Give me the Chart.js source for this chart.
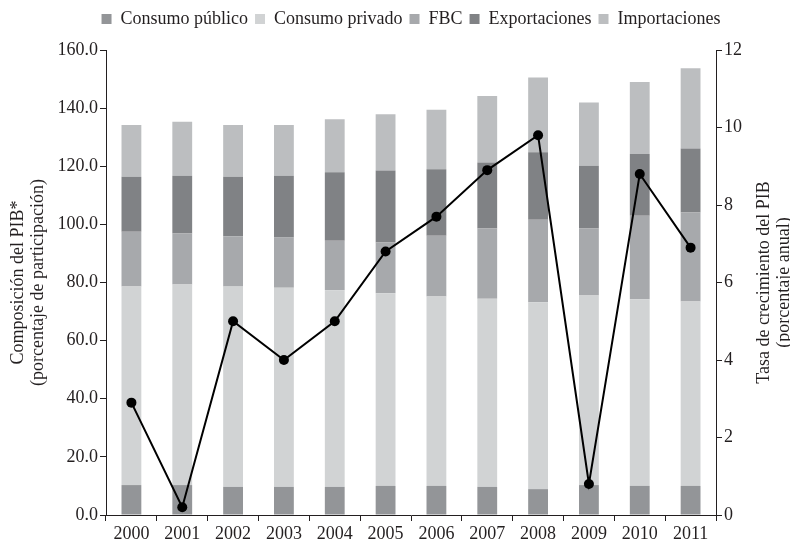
<!DOCTYPE html>
<html lang="es">
<head>
<meta charset="UTF-8">
<title>Composición y crecimiento del PIB</title>
<script src="https://cdn.jsdelivr.net/npm/chart.js@4.4.1/dist/chart.umd.min.js"></script>
<style>
    html, body { margin: 0; padding: 0; background: #ffffff; }
    #wrap { width: 790px; height: 543px; }
</style>
</head>
<body>
<div id="wrap"><canvas id="grafico" width="790" height="543"></canvas></div>
<script>
    const anios = ['2000', '2001', '2002', '2003', '2004', '2005', '2006', '2007', '2008', '2009', '2010', '2011'];

    // composición del PIB, en % de participación (se apilan de abajo hacia arriba)
    const consumoPublico = [10.3, 10.3, 9.7, 9.7, 9.7, 10.0, 10.0, 9.7, 8.9, 10.3, 10.0, 10.0];
    const consumoPrivado = [68.3, 69.0, 68.9, 68.5, 67.6, 66.3, 65.2, 64.7, 64.3, 65.2, 64.2, 63.5];
    const fbc = [18.9, 17.6, 17.2, 17.4, 17.1, 17.5, 20.9, 24.2, 28.4, 23.1, 28.8, 30.6];
    const exportaciones = [18.9, 19.8, 20.6, 21.1, 23.5, 24.7, 22.9, 22.7, 23.2, 21.6, 21.2, 22.0];
    const importaciones = [17.8, 18.6, 17.8, 17.5, 18.3, 19.4, 20.4, 22.9, 25.7, 21.7, 24.8, 27.6];

    // tasa de crecimiento anual del PIB (eje derecho)
    const crecimiento = [2.9, 0.2, 5.0, 4.0, 5.0, 6.8, 7.7, 8.9, 9.8, 0.8, 8.8, 6.9];

    const tituloIzq = ['Composición del PIB*', '(porcentaje de participación)'];
    const tituloDer = ['Tasa de crecimiento del PIB', '(porcentaje anual)'];

    const fuente = '"Liberation Serif", "DejaVu Serif", serif';
    const tinta = '#231f20';

    Chart.defaults.font.family = fuente;
    Chart.defaults.font.size = 18;
    Chart.defaults.color = tinta;

    // leyenda en una sola fila, centrada sobre el área del gráfico, con altura fija
    const ajusteLeyenda = {
        id: 'ajusteLeyenda',
        beforeInit(chart) {
            const fit = chart.legend.fit;
            chart.legend.fit = function () {
                const ancho = this.maxWidth;
                this.maxWidth = ancho + 200;
                fit.bind(this)();
                this.maxWidth = ancho;
                this.width = ancho;
                this.height = 50;
            };
        },
        afterLayout(chart) {
            const leyenda = chart.legend;
            leyenda.left -= 60;
            leyenda.right += 60;
            leyenda.width = leyenda.right - leyenda.left;
            leyenda.top += 3;
            leyenda.bottom += 3;
        }
    };

    // títulos de los ejes, ambos leídos de abajo hacia arriba
    const titulosEjes = {
        id: 'titulosEjes',
        afterDraw(chart) {
            const { ctx, chartArea } = chart;
            const cy = (chartArea.top + chartArea.bottom) / 2;
            ctx.save();
            ctx.font = '18px ' + fuente;
            ctx.fillStyle = tinta;
            ctx.textAlign = 'center';
            ctx.textBaseline = 'middle';
            const lineas = [
                [18, tituloIzq[0]], [38, tituloIzq[1]],
                [764, tituloDer[0]], [784, tituloDer[1]]
            ];
            lineas.forEach(([x, texto]) => {
                ctx.save();
                ctx.translate(x, cy);
                ctx.rotate(-Math.PI / 2);
                ctx.fillText(texto, 0, 0);
                ctx.restore();
            });
            ctx.restore();
        }
    };

    function barra(label, data, color) {
        return {
            type: 'bar',
            label: label,
            data: data,
            backgroundColor: color,
            borderWidth: 0,
            barPercentage: 0.39,
            categoryPercentage: 1,
            yAxisID: 'y',
            order: 1
        };
    }

    const ejeComun = {
        border: { display: true, color: tinta, width: 1 },
        grid: { drawOnChartArea: false, color: tinta, tickLength: 6, tickWidth: 1 }
    };

    new Chart(document.getElementById('grafico'), {
        data: {
            labels: anios,
            datasets: [
                barra('Consumo público', consumoPublico, '#939598'),
                barra('Consumo privado', consumoPrivado, '#d1d3d4'),
                barra('FBC', fbc, '#a7a9ac'),
                barra('Exportaciones', exportaciones, '#808285'),
                barra('Importaciones', importaciones, '#bcbec0'),
                {
                    type: 'line',
                    label: 'Crecimiento',
                    data: crecimiento,
                    yAxisID: 'y2',
                    borderColor: '#000000',
                    borderWidth: 2,
                    pointRadius: 5,
                    pointBackgroundColor: '#000000',
                    pointBorderWidth: 0,
                    tension: 0,
                    order: 0
                }
            ]
        },
        options: {
            responsive: false,
            animation: false,
            layout: { padding: 0 },
            plugins: {
                tooltip: { enabled: false },
                legend: {
                    position: 'top',
                    fullSize: false,
                    labels: {
                        boxWidth: 10,
                        boxHeight: 10,
                        padding: 7,
                        color: tinta,
                        filter: (item) => item.datasetIndex < 5
                    }
                }
            },
            scales: {
                x: {
                    stacked: true,
                    offset: true,
                    border: ejeComun.border,
                    grid: Object.assign({ offset: true }, ejeComun.grid),
                    ticks: { padding: 2, maxRotation: 0 },
                    afterFit: (s) => { s.height = 28; }
                },
                y: {
                    stacked: true,
                    position: 'left',
                    min: 0,
                    max: 160,
                    border: ejeComun.border,
                    grid: ejeComun.grid,
                    ticks: { stepSize: 20, padding: 2, callback: (v) => v.toFixed(1) },
                    afterFit: (s) => { s.width = 106; }
                },
                y2: {
                    position: 'right',
                    min: 0,
                    max: 12,
                    border: ejeComun.border,
                    grid: ejeComun.grid,
                    ticks: { stepSize: 2, padding: 2 },
                    afterFit: (s) => { s.width = 74; }
                }
            }
        },
        plugins: [ajusteLeyenda, titulosEjes]
    });
</script>
</body>
</html>
